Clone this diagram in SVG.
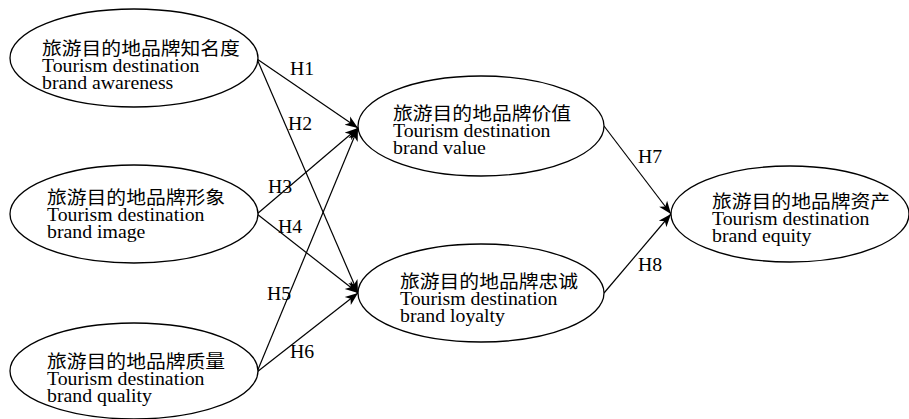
<svg xmlns="http://www.w3.org/2000/svg" width="909" height="419" viewBox="0 0 909 419">
<style>
.n ellipse{fill:#fff;stroke:#000;stroke-width:1.3}
text{font-family:"Liberation Serif","Times New Roman","Noto Sans CJK SC",serif;font-size:18px;fill:#000}
#edges line{stroke:#000;stroke-width:1.2;fill:none;marker-end:url(#ah)}
</style>
<defs>
<marker id="ah" markerUnits="userSpaceOnUse" markerWidth="14" markerHeight="12" refX="13" refY="5" orient="auto" viewBox="0 0 14 10">
<path d="M0,0 L13,5 L0,10 L3.5,5 Z" fill="#000"/>
</marker>
</defs>
<rect width="909" height="419" fill="#fff"/>
<g id="edges">
<line x1="257" y1="59" x2="358" y2="128"/>
<line x1="257" y1="59" x2="358" y2="293"/>
<line x1="257" y1="214" x2="358" y2="128"/>
<line x1="257" y1="214" x2="358" y2="293"/>
<line x1="257" y1="372" x2="358" y2="128"/>
<line x1="257" y1="372" x2="358" y2="293"/>
<line x1="604" y1="126" x2="671" y2="214"/>
<line x1="604" y1="293" x2="671" y2="214"/>
<text transform="translate(290,75) scale(1.1,1)">H1</text>
<text transform="translate(288,130) scale(1.1,1)">H2</text>
<text transform="translate(268,193) scale(1.1,1)">H3</text>
<text transform="translate(278,233) scale(1.1,1)">H4</text>
<text transform="translate(267,300) scale(1.1,1)">H5</text>
<text transform="translate(290,358) scale(1.1,1)">H6</text>
<text transform="translate(638,163) scale(1.1,1)">H7</text>
<text transform="translate(638,271) scale(1.1,1)">H8</text>
</g>
<g id="awareness" class="n">
<ellipse cx="134" cy="58" rx="124" ry="49"/>
<text transform="translate(42,55) scale(1.1,1)"><tspan x="0" y="0">旅游目的地品牌知名度</tspan><tspan x="0" y="17">Tourism destination</tspan><tspan x="0" y="34">brand awareness</tspan></text>
</g>
<g id="image" class="n">
<ellipse cx="134" cy="214" rx="124" ry="49"/>
<text transform="translate(47,204) scale(1.1,1)"><tspan x="0" y="0">旅游目的地品牌形象</tspan><tspan x="0" y="17">Tourism destination</tspan><tspan x="0" y="34">brand image</tspan></text>
</g>
<g id="quality" class="n">
<ellipse cx="134" cy="371" rx="124" ry="48"/>
<text transform="translate(47,368) scale(1.1,1)"><tspan x="0" y="0">旅游目的地品牌质量</tspan><tspan x="0" y="17">Tourism destination</tspan><tspan x="0" y="34">brand quality</tspan></text>
</g>
<g id="value" class="n">
<ellipse cx="481" cy="126" rx="123" ry="50"/>
<text transform="translate(393,120) scale(1.1,1)"><tspan x="0" y="0">旅游目的地品牌价值</tspan><tspan x="0" y="17">Tourism destination</tspan><tspan x="0" y="34">brand value</tspan></text>
</g>
<g id="loyalty" class="n">
<ellipse cx="481" cy="293" rx="123" ry="49"/>
<text transform="translate(400,288) scale(1.1,1)"><tspan x="0" y="0">旅游目的地品牌忠诚</tspan><tspan x="0" y="17">Tourism destination</tspan><tspan x="0" y="34">brand loyalty</tspan></text>
</g>
<g id="equity" class="n">
<ellipse cx="790" cy="214" rx="119" ry="48"/>
<text transform="translate(712,208) scale(1.1,1)"><tspan x="0" y="0">旅游目的地品牌资产</tspan><tspan x="0" y="17">Tourism destination</tspan><tspan x="0" y="34">brand equity</tspan></text>
</g>
</svg>
